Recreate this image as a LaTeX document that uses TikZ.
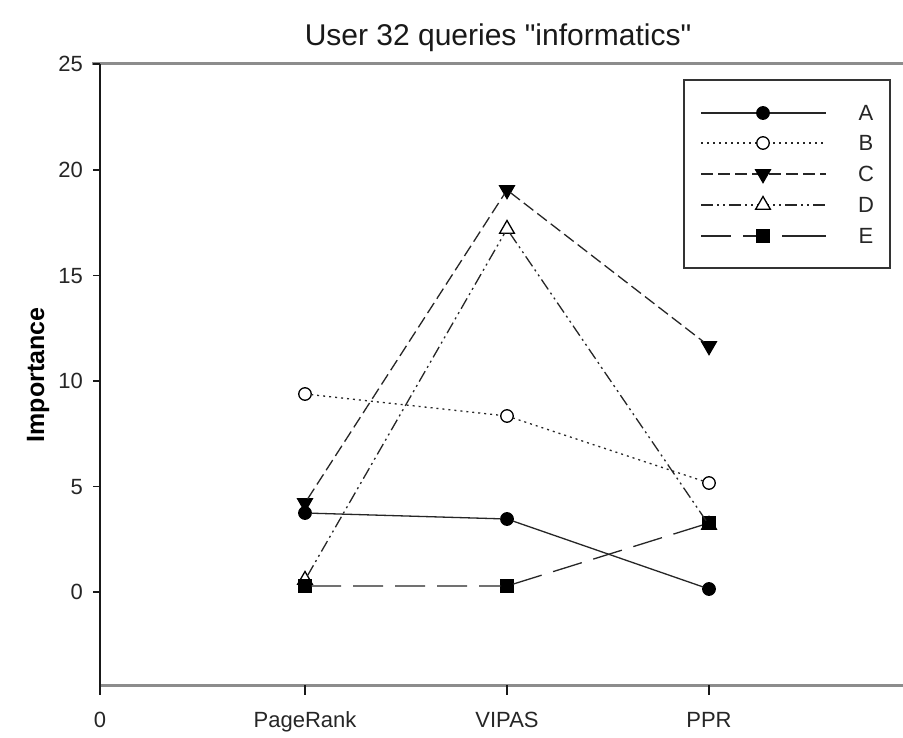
\documentclass[tikz,border=0pt]{standalone}
\usepackage{fontspec}
\setmainfont{Liberation Sans}
\newfontfamily\titlefont[Ligatures=TeXOff]{Liberation Sans}
\usetikzlibrary{shapes.geometric}
\begin{document}
\begin{tikzpicture}[x=1pt,y=-1pt,
  lbl/.style={font=\fontsize{22}{24}\selectfont, text=black!85, inner sep=0pt},
  mk/.style={inner sep=0pt, outer sep=0pt, draw=black, line width=1.3pt},
  mA/.style={mk, circle, fill=black, minimum size=12.5pt},
  mB/.style={mk, circle, fill=white, minimum size=12.5pt},
  mC/.style={mk, regular polygon, regular polygon sides=3, shape border rotate=180, fill=black, minimum size=17pt},
  mD/.style={mk, regular polygon, regular polygon sides=3, fill=white, minimum size=17pt},
  mE/.style={mk, rectangle, fill=black, minimum size=12pt},
  lA/.style={line width=1.3pt, black!85},
  lB/.style={line width=1.3pt, black!85, dash pattern=on 2pt off 4pt},
  lC/.style={line width=1.3pt, black!85, dash pattern=on 12pt off 5pt},
  lD/.style={line width=1.3pt, black!85, dash pattern=on 12pt off 4pt on 2pt off 4pt on 2pt off 4pt},
  lE/.style={line width=1.3pt, black!85, dash pattern=on 30pt off 12pt},
  axis/.style={line width=1.5pt, black!90},
  frame/.style={line width=3pt, black!45},
]
\useasboundingbox[fill=white] (0,0) rectangle (903,738);

% title
\node[font=\titlefont\fontsize{30}{33}\selectfont, text=black!90] (title) at (498,38) {User 32 queries "informatics"};

% axes
\draw[frame] (92,64) -- (903,64);
\draw[frame] (100,685) -- (903,685);
\draw[axis] (100,64) -- (100,695);
\foreach \v/\yy in {25/64,20/170,15/275.6,10/381,5/486.6,0/592} {
  \draw[axis] (93,\yy) -- (100,\yy);
  \node[lbl, anchor=east] (yt\v) at (83,\yy) {\v};
}
\foreach \xx/\nm/\t in {305/pr/PageRank,507/vi/VIPAS,709/pp/PPR} {
  \draw[axis] (\xx,685) -- (\xx,695);
  \node[lbl, anchor=base] (xt\nm) at (\xx,727) {\t};
}
\node[lbl, anchor=base] (xt0) at (100,727) {0};
\node[font=\fontsize{25}{27}\selectfont\bfseries, rotate=90, inner sep=0pt] (ylab) at (38,375) {Importance};

% data points
\node[mA] (a1) at (305,513) {};
\node[mA] (a2) at (507,519) {};
\node[mA] (a3) at (709,589) {};
\node[mB] (b1) at (305,394) {};
\node[mB] (b2) at (507,416) {};
\node[mB] (b3) at (709,483) {};
\node[mD] (d1) at (305,580) {};
\node[mD] (d2) at (507,229) {};
\node[mD] (d3) at (709,525) {};
\node[mC] (c1) at (305,503) {};
\node[mC] (c2) at (507,190) {};
\node[mC] (c3) at (709,346) {};
\node[mE] (e1) at (305,586) {};
\node[mE] (e2) at (507,586) {};
\node[mE] (e3) at (709,523) {};

\draw[lA] (a1) -- (a2) -- (a3);
\draw[lB] (b1) -- (b2) -- (b3);
\draw[lC] (c1) -- (c2) -- (c3);
\draw[lD] (d1) -- (d2) -- (d3);
\draw[lE] (e1) -- (e2) -- (e3);

% legend
\node[draw=black!80, line width=1.5pt, minimum width=206pt, minimum height=188pt, inner sep=0pt] (legend) at (787,174) {};
\foreach \k/\yy/\L in {A/113/A,B/143/B,C/174/C,D/205/D,E/236/E} {
  \coordinate (s\k) at (701,\yy);
  \coordinate (t\k) at (826,\yy);
  \node[lbl] (n\k) at (866,\yy) {\L};
}
\draw[lA] (sA) -- (tA);
\draw[lB] (sB) -- (tB);
\draw[lC] (sC) -- (tC);
\draw[lD] (sD) -- (tD);
\draw[lE, dash pattern=on 30pt off 12pt on 27pt off 12pt on 30pt off 0pt] (sE) -- (tE);
\node[mA] (kA) at (763,113) {};
\node[mB] (kB) at (763,143) {};
\node[mC] (kC) at (763,174) {};
\node[mD] (kD) at (763,205) {};
\node[mE] (kE) at (763,236) {};
\end{tikzpicture}
\end{document}
